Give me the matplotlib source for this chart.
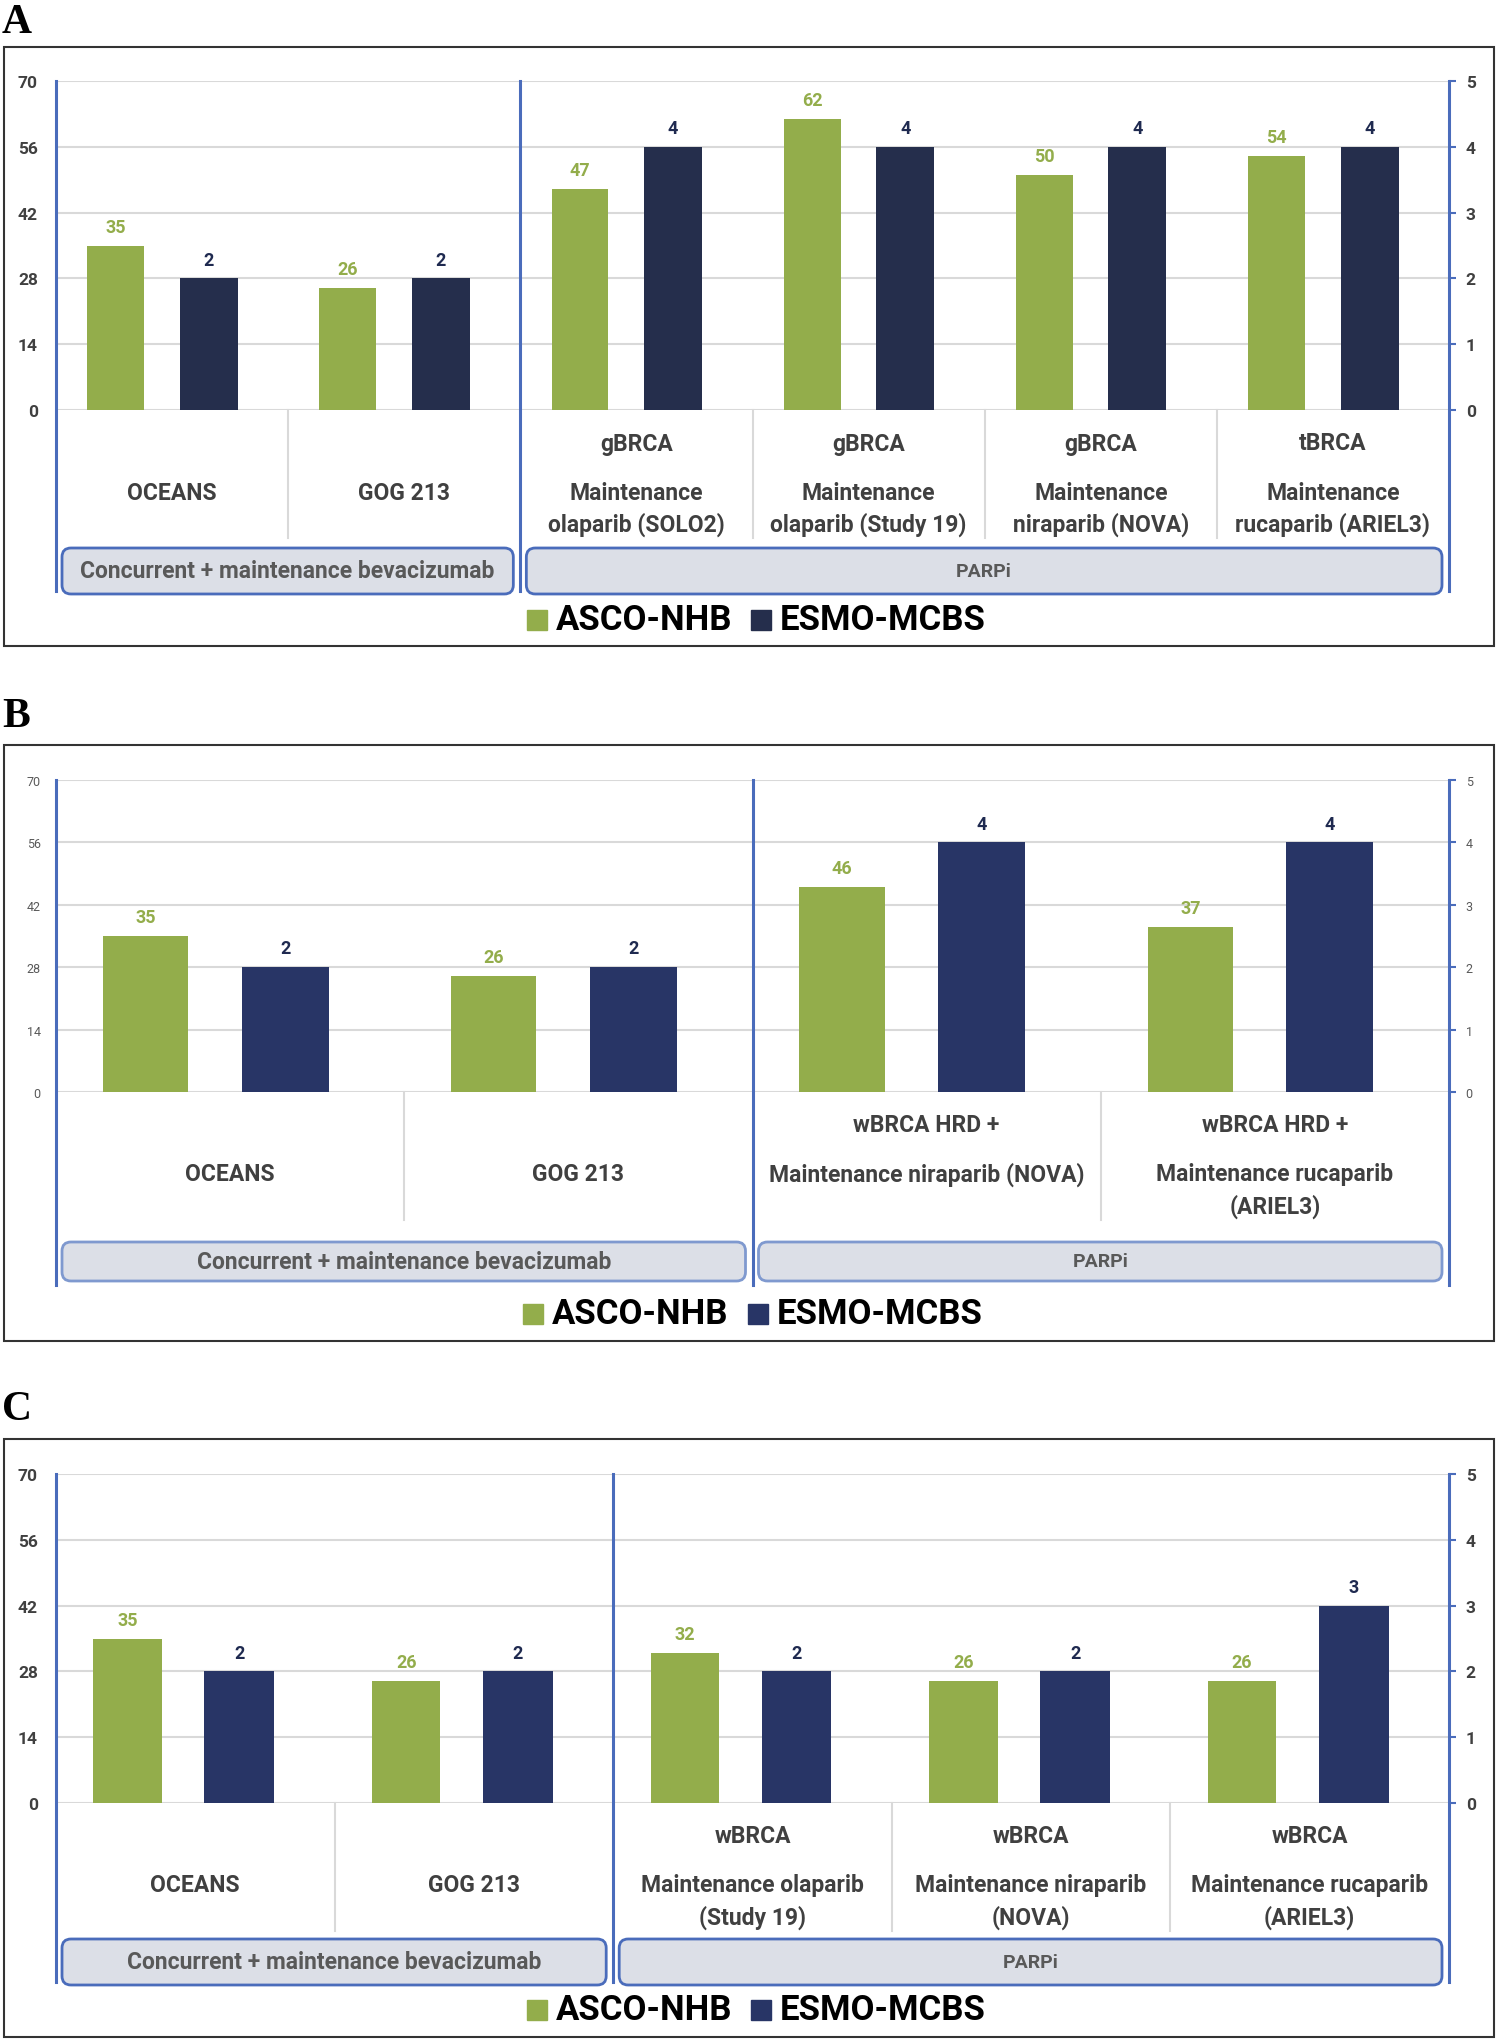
import numpy as np
import matplotlib.pyplot as plt
from matplotlib.patches import FancyBboxPatch, Rectangle

plt.rcParams['font.family'] = ['Roboto', 'DejaVu Sans']

W, H = 1498, 2040
L, R = 56, 1449  # plot area left / right (px)

series_names = ['ASCO-NHB', 'ESMO-MCBS']
group_names = ['Concurrent + maintenance bevacizumab', 'PARPi']
left_ticks = [0, 14, 28, 42, 56, 70]
right_ticks = [0, 1, 2, 3, 4, 5]

# panel A
a_top = ['', '', 'gBRCA', 'gBRCA', 'gBRCA', 'tBRCA']
a_main = ['OCEANS', 'GOG 213', 'Maintenance\nolaparib (SOLO2)',
          'Maintenance\nolaparib (Study 19)', 'Maintenance\nniraparib (NOVA)',
          'Maintenance\nrucaparib (ARIEL3)']
a_asco = [35, 26, 47, 62, 50, 54]
a_esmo = [2, 2, 4, 4, 4, 4]
a_groups = [2, 4]

# panel B
b_top = ['', '', 'wBRCA HRD +', 'wBRCA HRD +']
b_main = ['OCEANS', 'GOG 213', 'Maintenance niraparib (NOVA)',
          'Maintenance rucaparib\n(ARIEL3)']
b_asco = [35, 26, 46, 37]
b_esmo = [2, 2, 4, 4]
b_groups = [2, 2]

# panel C
c_top = ['', '', 'wBRCA', 'wBRCA', 'wBRCA']
c_main = ['OCEANS', 'GOG 213', 'Maintenance olaparib\n(Study 19)',
          'Maintenance niraparib\n(NOVA)', 'Maintenance rucaparib\n(ARIEL3)']
c_asco = [35, 26, 32, 26, 26]
c_esmo = [2, 2, 2, 2, 3]
c_groups = [2, 3]

green = '#93ad4b'
blue_line = '#4a6cbb'
grid_c = '#d9d9d9'
txt_c = '#404040'

fig = plt.figure(figsize=(W / 100, H / 100), dpi=100)
fig.patch.set_facecolor('white')
panels = []


def draw_panel(letter, y_letter, frame, y_top, y_zero, tops, mains, asco, esmo,
               groups, navy, tick_fs, tick_bold, box_y, box_edge, axis_end,
               leg_y, leg_x):
    ax = fig.add_axes([L / W, 1 - y_zero / H, (R - L) / W, (y_zero - y_top) / H])
    ax.patch.set_visible(False)
    n = len(asco)
    x = np.arange(n)
    b1 = ax.bar(x - 0.243, asco, width=0.245, color=green, zorder=3)
    ax.set_xlim(-0.5, n - 0.5)
    ax.set_ylim(0, 70)
    ax.set_yticks(left_ticks)
    ax.set_xticks([])
    ax.grid(axis='y', color=grid_c, lw=1.5, zorder=0)
    ax.set_axisbelow(True)
    for s in ax.spines.values():
        s.set_visible(False)
    fw = 'bold' if tick_bold else 'normal'
    tc = txt_c if tick_bold else '#595959'
    ax.tick_params(axis='y', length=0, pad=13 if tick_bold else 11,
                   labelsize=tick_fs, labelcolor=tc)
    for t in ax.get_yticklabels():
        t.set_fontweight(fw)
    ax.bar_label(b1, padding=7, color=green, fontsize=13, fontweight='bold')

    ax2 = ax.twinx()
    b2 = ax2.bar(x + 0.158, esmo, width=0.25, color=navy, zorder=3)
    ax2.set_ylim(0, 5)
    ax2.set_yticks(right_ticks)
    for s in ax2.spines.values():
        s.set_visible(False)
    ax2.tick_params(axis='y', length=5, width=1.5, color=blue_line, pad=7,
                    labelsize=tick_fs, labelcolor=tc)
    for t in ax2.get_yticklabels():
        t.set_fontweight(fw)
    ax2.bar_label(b2, padding=7, color='#1f2a50', fontsize=13, fontweight='bold')

    panels.append(dict(letter=letter, y_letter=y_letter, frame=frame, y_top=y_top,
                       y_zero=y_zero, tops=tops, mains=mains, groups=groups,
                       box_y=box_y, box_edge=box_edge, axis_end=axis_end,
                       leg_y=leg_y, leg_x=leg_x, navy=navy))


draw_panel('A', 4, (4, 48, 1494, 647), 82, 411, a_top, a_main, a_asco, a_esmo,
           a_groups, '#252e4c', 12.5, True, (549, 595), '#4a6cbb', 592, 621,
           (527, 751))
draw_panel('B', 698, (4, 746, 1494, 1342), 781, 1093, b_top, b_main, b_asco, b_esmo,
           b_groups, '#283566', 9, False, (1243, 1282), '#7f99cf', 1286, 1315,
           (523, 748))
draw_panel('C', 1391, (4, 1440, 1494, 2038), 1475, 1804, c_top, c_main, c_asco, c_esmo,
           c_groups, '#283566', 12.5, True, (1940, 1986), '#4a6cbb', 1983, 2011,
           (527, 751))

# overlay in pixel coordinates for frames, labels, group boxes and legend
ov = fig.add_axes([0, 0, 1, 1])
ov.set_xlim(0, W)
ov.set_ylim(H, 0)
ov.axis('off')
ov.patch.set_visible(False)

for p in panels:
    n = len(p['mains'])
    cw = (R - L) / n
    x0, y0, x1, y1 = p['frame']
    ov.add_patch(Rectangle((x0, y0), x1 - x0, y1 - y0, fill=False,
                           edgecolor='#333333', lw=1.5))
    ov.text(2, p['y_letter'], p['letter'], fontsize=30, fontweight='bold',
            family='Liberation Serif', va='top', ha='left', color='black')
    yz = p['y_zero']
    # category labels
    for i in range(n):
        cx = L + (i + 0.5) * cw
        if p['tops'][i]:
            ov.text(cx, yz + 33, p['tops'][i], ha='center', va='center',
                    fontsize=16.5, fontweight='bold', color=txt_c)
        for k, ln in enumerate(p['mains'][i].split('\n')):
            ov.text(cx, yz + 82 + 32 * k, ln, ha='center', va='center',
                    fontsize=16.5, fontweight='bold', color=txt_c)
    # separators between categories
    div = p['groups'][0]
    for i in range(1, n):
        xs = L + i * cw
        if i != div:
            ov.plot([xs, xs], [yz, yz + 128], color=grid_c, lw=1.5)
    # blue axis lines
    xd = L + div * cw
    for xs in (L, xd, R):
        ov.plot([xs, xs], [p['y_top'], p['axis_end']], color=blue_line, lw=2.2)
    # group boxes
    bounds = [L, xd, R]
    by0, by1 = p['box_y']
    for g in range(2):
        bx0 = bounds[g] + 6
        bx1 = bounds[g + 1] - 7
        ov.add_patch(FancyBboxPatch((bx0, by0), bx1 - bx0, by1 - by0,
                                    boxstyle='round,pad=0,rounding_size=9',
                                    facecolor='#dcdfe7', edgecolor=p['box_edge'],
                                    lw=2))
        ov.text((bx0 + bx1) / 2, (by0 + by1) / 2, group_names[g], ha='center',
                va='center', fontsize=16.5 if g == 0 else 14,
                fontweight='bold', color='#595959')
    # legend
    for name, col, lx in zip(series_names, [green, p['navy']], p['leg_x']):
        ov.add_patch(Rectangle((lx, p['leg_y'] - 10), 20, 20, color=col))
        ov.text(lx + 29, p['leg_y'], name, ha='left', va='center', fontsize=25,
                fontweight='bold', color='black')

fig.savefig('out.png', dpi=100)
